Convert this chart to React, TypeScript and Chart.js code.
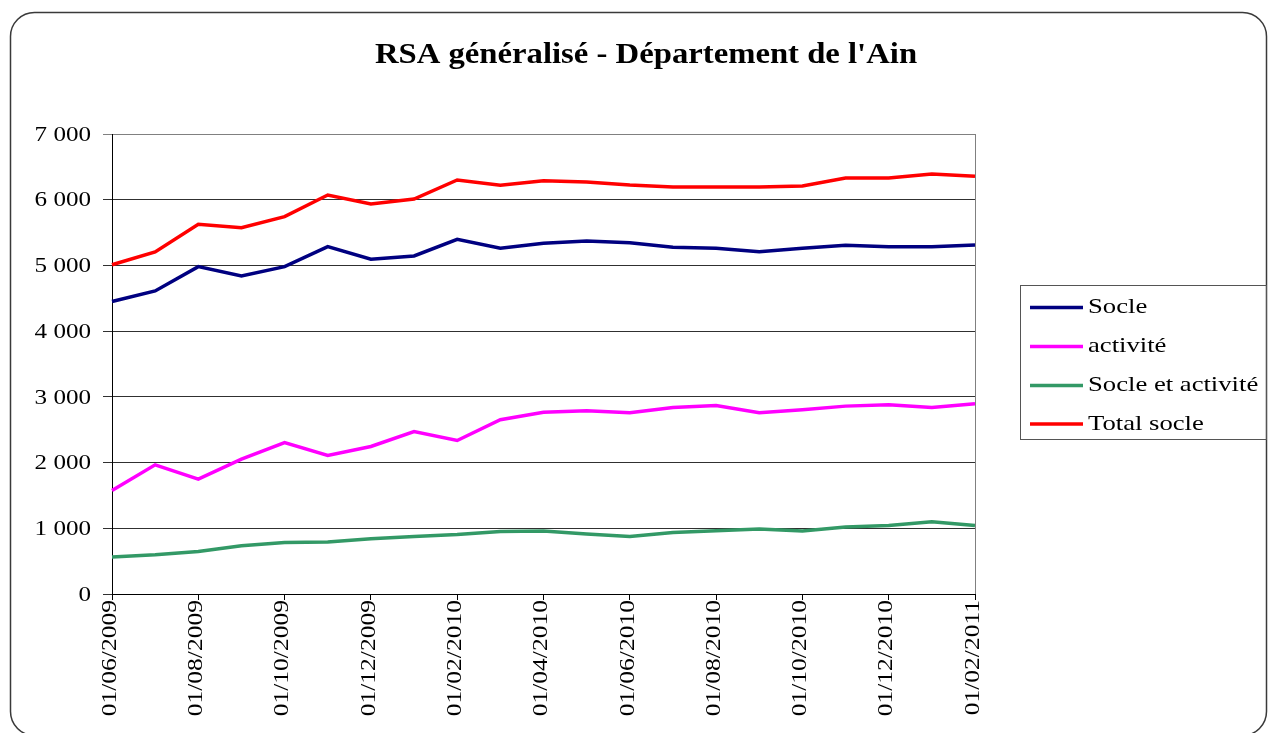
import React, { useEffect, useRef } from "react";
import { Chart, registerables } from "chart.js";

Chart.register(...registerables);

const categories = [
  "01/06/2009", "01/07/2009", "01/08/2009", "01/09/2009", "01/10/2009", "01/11/2009",
  "01/12/2009", "01/01/2010", "01/02/2010", "01/03/2010", "01/04/2010", "01/05/2010",
  "01/06/2010", "01/07/2010", "01/08/2010", "01/09/2010", "01/10/2010", "01/11/2010",
  "01/12/2010", "01/01/2011", "01/02/2011",
];

const socle = [4450, 4612, 4982, 4840, 4982, 5286, 5094, 5144, 5398, 5262, 5337, 5372, 5345, 5277, 5262, 5210, 5262, 5307, 5286, 5286, 5312];
const activite = [1575, 1966, 1749, 2053, 2305, 2108, 2245, 2473, 2336, 2651, 2767, 2788, 2757, 2838, 2868, 2760, 2803, 2859, 2879, 2838, 2894];
const socleEtActivite = [563, 598, 648, 734, 785, 791, 841, 876, 906, 952, 958, 912, 876, 937, 963, 988, 958, 1019, 1043, 1099, 1043];
const totalSocle = [5010, 5205, 5627, 5575, 5742, 6072, 5935, 6011, 6300, 6220, 6290, 6270, 6224, 6195, 6195, 6195, 6210, 6330, 6330, 6390, 6356];

const seriesNames = ["Socle", "activité", "Socle et activité", "Total socle"];
const seriesColors = ["#000080", "#FF00FF", "#339966", "#FF0000"];

const titleText = "RSA généralisé - Département de l'Ain";
const FONT = "'Liberation Serif', 'Times New Roman', serif";

function stretchedText(ctx: any, text: string, x: number, y: number, sx: number, rot = 0) {
  ctx.save();
  ctx.translate(x, y);
  if (rot) ctx.rotate(rot);
  ctx.scale(sx, 1);
  ctx.fillText(text, 0, 0);
  ctx.restore();
}

const decorPlugin = {
  id: "decor",
  beforeDraw(chart: any) {
    const ctx = chart.ctx;
    ctx.save();
    ctx.fillStyle = "#ffffff";
    ctx.fillRect(0, 0, chart.width, chart.height);
    // outer rounded frame
    const x = 10.5, y = 12.5, w = 1256, h = 723, r = 24;
    ctx.beginPath();
    ctx.moveTo(x + r, y);
    ctx.lineTo(x + w - r, y);
    ctx.arcTo(x + w, y, x + w, y + r, r);
    ctx.lineTo(x + w, y + h - r);
    ctx.arcTo(x + w, y + h, x + w - r, y + h, r);
    ctx.lineTo(x + r, y + h);
    ctx.arcTo(x, y + h, x, y + h - r, r);
    ctx.lineTo(x, y + r);
    ctx.arcTo(x, y, x + r, y, r);
    ctx.closePath();
    ctx.strokeStyle = "#3a3a3a";
    ctx.lineWidth = 1.5;
    ctx.stroke();
    // title
    ctx.fillStyle = "#000";
    ctx.font = `bold 30px ${FONT}`;
    ctx.textAlign = "center";
    ctx.textBaseline = "alphabetic";
    stretchedText(ctx, titleText, 646, 63, 1.09);
    ctx.restore();
  },
  afterDatasetsDraw(chart: any) {
    const ctx = chart.ctx;
    const a = chart.chartArea;
    ctx.save();
    // right border of plot area
    ctx.strokeStyle = "#808080";
    ctx.lineWidth = 1;
    ctx.beginPath();
    ctx.moveTo(Math.round(a.right) + 0.5, a.top);
    ctx.lineTo(Math.round(a.right) + 0.5, a.bottom);
    ctx.stroke();

    // y tick labels
    const ys = chart.scales.y;
    ctx.fillStyle = "#000";
    ctx.font = `22px ${FONT}`;
    ctx.textAlign = "right";
    ctx.textBaseline = "middle";
    ys.ticks.forEach((t: any) => {
      const py = ys.getPixelForValue(t.value);
      const lab = Number(t.value) === 0 ? "0" : `${Number(t.value) / 1000} 000`;
      stretchedText(ctx, lab, 91, py + 1, 1.14);
    });

    // x tick labels (rotated)
    const xs = chart.scales.x;
    ctx.font = `22px ${FONT}`;
    ctx.textAlign = "right";
    ctx.textBaseline = "middle";
    categories.forEach((lab, i) => {
      if (i % 2 !== 0) return;
      const px = xs.getPixelForValue(i);
      stretchedText(ctx, lab, px - 2, 600, 1.16, -Math.PI / 2);
    });

    // legend box
    const lx = 1020.5, ly = 285.5, lw = 246, lh = 154;
    ctx.strokeStyle = "#555";
    ctx.lineWidth = 1;
    ctx.strokeRect(lx, ly, lw, lh);
    const rows = [307.5, 346.5, 385.5, 424];
    ctx.font = `21.5px ${FONT}`;
    ctx.textAlign = "left";
    ctx.textBaseline = "middle";
    chart.data.datasets.forEach((ds: any, i: number) => {
      ctx.strokeStyle = ds.borderColor;
      ctx.lineWidth = 3.5;
      ctx.beginPath();
      ctx.moveTo(1030, rows[i]);
      ctx.lineTo(1083, rows[i]);
      ctx.stroke();
      ctx.fillStyle = "#000";
      stretchedText(ctx, ds.label, 1088, rows[i], 1.24);
    });
    ctx.restore();
  },
};

export default function App() {
  const ref = useRef<HTMLCanvasElement | null>(null);

  useEffect(() => {
    if (!ref.current) return;
    const seriesData = [socle, activite, socleEtActivite, totalSocle];
    const chart = new Chart(ref.current, {
      type: "line",
      data: {
        labels: categories,
        datasets: seriesData.map((d, i) => ({
          label: seriesNames[i],
          data: d,
          borderColor: seriesColors[i],
          backgroundColor: seriesColors[i],
          borderWidth: 3.5,
          pointRadius: 0,
          tension: 0,
          fill: false,
        })),
      },
      options: {
        responsive: false,
        animation: false,
        devicePixelRatio: 1,
        layout: { padding: { left: 0, top: 134, right: 294, bottom: 0 } },
        plugins: {
          legend: { display: false },
          title: { display: false },
          tooltip: { enabled: false },
        },
        scales: {
          x: {
            type: "category",
            offset: false,
            afterFit: (s: any) => { s.height = 139; },
            border: { color: "#000", width: 1 },
            grid: {
              drawOnChartArea: false,
              drawTicks: true,
              tickLength: 6,
              color: (c: any) => (c.index % 2 === 0 ? "#000" : "rgba(0,0,0,0)"),
            },
            ticks: {
              autoSkip: false,
              display: false,
            },
          },
          y: {
            min: 0,
            max: 7000,
            afterFit: (s: any) => { s.width = 112; },
            border: { color: "#000", width: 1 },
            grid: {
              color: (c: any) => (c.tick && c.tick.value === 7000 ? "#808080" : "#303030"),
              lineWidth: 1,
              tickLength: 9,
            },
            ticks: {
              stepSize: 1000,
              display: false,
            },
          },
        },
      },
      plugins: [decorPlugin],
    });
    return () => chart.destroy();
  }, []);

  return (
    <div style={{ position: "absolute", left: 0, top: 0, width: 1269, height: 733 }}>
      <canvas ref={ref} width={1269} height={733} style={{ display: "block" }} />
    </div>
  );
}
